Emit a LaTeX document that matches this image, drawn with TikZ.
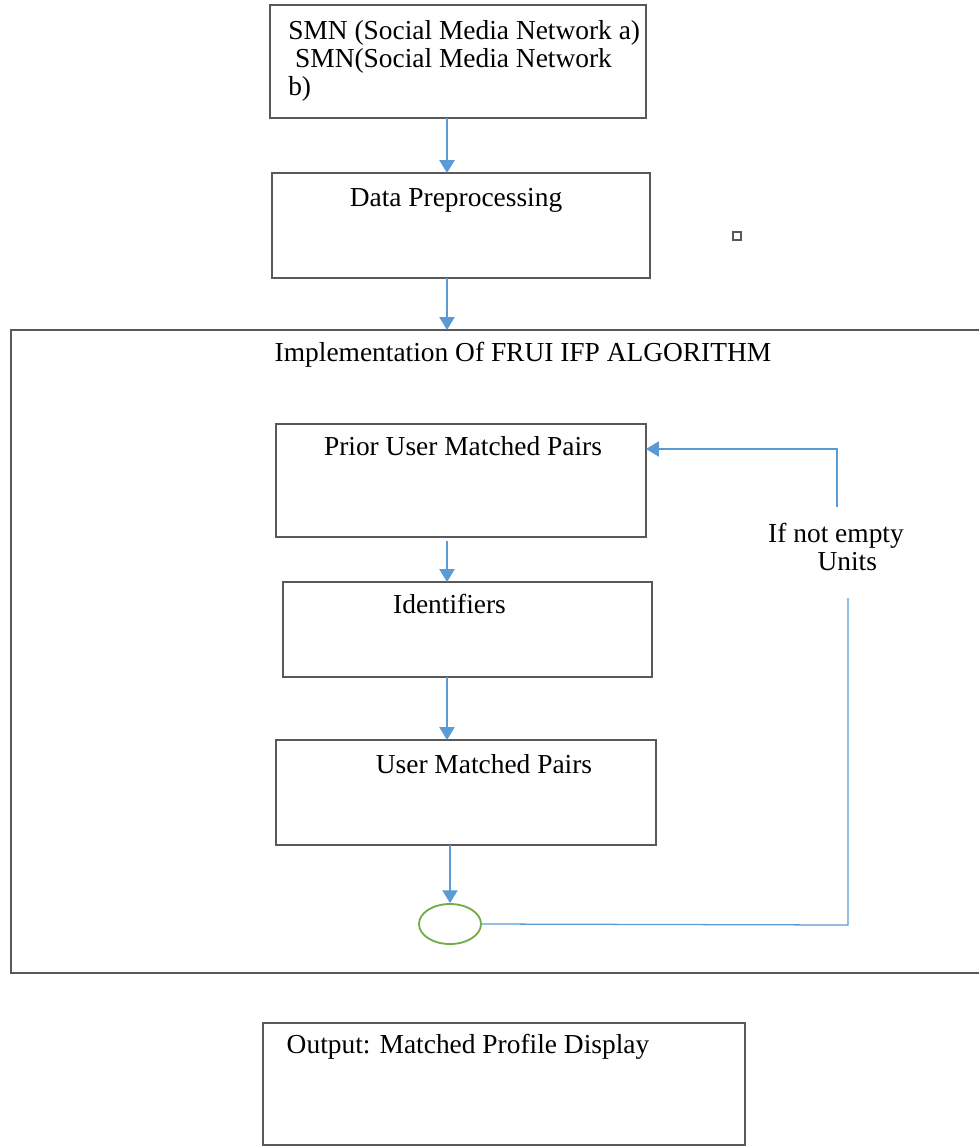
\documentclass[tikz,border=0pt]{standalone}
\usepackage{fontspec}
\setmainfont{Liberation Serif}
\usetikzlibrary{arrows.meta,shapes.geometric}
\definecolor{boxgray}{HTML}{595959}
\definecolor{flowblue}{HTML}{5B9BD5}
\definecolor{loopgreen}{HTML}{70AD47}
\tikzset{
  box/.style={draw=boxgray, line width=1.1pt, rectangle, inner sep=0pt, outer sep=0pt},
  lbl/.style={inner sep=0pt, font=\fontsize{19.5}{20}\selectfont},
  flow/.style={draw=flowblue, line width=0.9pt, -{Triangle[width=0.38cm,length=0.32cm]}},
  link/.style={draw=flowblue, line width=0.9pt},
}
\begin{document}
\begin{tikzpicture}[x=0.025cm, y=-0.025cm]
        \clip (0,0) rectangle (979,1147);
        \coordinate (axis) at (447,0);

        \node[box, minimum width=9.4cm, minimum height=2.825cm] (smn) at (458,61.5) {};
        \node[lbl, align=left, anchor=north west] (smntext) at (288,20) {SMN (Social Media Network a)\\\hspace*{0.25em}SMN(Social Media Network\\b)};

        \node[box, minimum width=9.45cm, minimum height=2.625cm] (prep) at (461,225.5) {};
        \node[lbl] (preptext) at (456,200) {Data Preprocessing};
        \node[draw=boxgray, line width=1pt, minimum size=0.2cm, inner sep=0pt] (stray) at (737,236) {};

        \node[box, minimum width=24.6cm, minimum height=16.075cm] (algo) at (503,651.5) {};
        \node[lbl] (algotext) at (523,355) {Implementation Of FRUI IFP ALGORITHM};

        \node[box, minimum width=9.25cm, minimum height=2.825cm] (prior) at (461,480.5) {};
        \node[lbl] (priortext) at (463,446) {Prior User Matched Pairs};

        \node[box, minimum width=9.225cm, minimum height=2.375cm] (ident) at (467.5,629.5) {};
        \node[lbl] (identtext) at (449.5,604) {Identifiers};

        \node[box, minimum width=9.5cm, minimum height=2.625cm] (umatch) at (466,792.5) {};
        \node[lbl] (umatchtext) at (484,764) {User Matched Pairs};

        \node[ellipse, draw=loopgreen, line width=1.3pt, minimum width=1.55cm, minimum height=1.0cm, inner sep=0pt] (ell) at (450,924) {};

        \node[box, minimum width=12.05cm, minimum height=3.05cm] (out) at (504,1084) {};
        \node[lbl] (outtext) at (468,1047) {Output: Matched Profile Display};

        \node[lbl, align=left] (cond) at (836,547) {If not empty\\\hspace*{1.8em}Units};

        % main flow
        \draw[flow] (smn.south -| axis) -- (prep.north -| axis);
        \draw[flow] (prep.south -| axis) -- (algo.north -| axis);
        \draw[flow] ([yshift=-0.1cm]prior.south -| axis) -- (ident.north -| axis);
        \draw[flow] (ident.south -| axis) -- (umatch.north -| axis);
        \draw[flow] (umatch.south -| ell) -- (ell.north);

        % loop back
        \coordinate (lp1) at (848,925);
        \coordinate (lp2) at (848,598);
        \coordinate (lp3) at (837,507);
        \coordinate (lp4) at (837,449);
        \draw[link] (ell.east) -- (lp1) -- (lp2);
        \draw[flow] (lp3) -- (lp4) -- (lp4 -| prior.east);
\end{tikzpicture}
\end{document}
